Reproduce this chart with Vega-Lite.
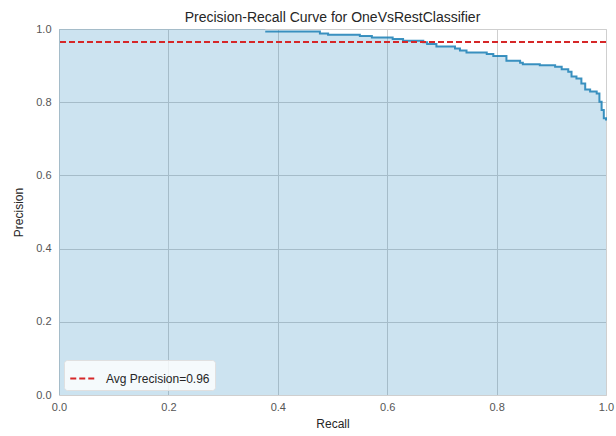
{
  "$schema": "https://vega.github.io/schema/vega-lite/v6.json",
  "autosize": "none",
  "width": 547,
  "height": 366,
  "padding": {"left": 59, "top": 29, "right": 10, "bottom": 41},
  "background": "white",
  "title": {
    "text": "Precision-Recall Curve for OneVsRestClassifier",
    "font": "Liberation Sans",
    "fontSize": 14,
    "fontWeight": "normal",
    "color": "#262626",
    "offset": -2
  },
  "config": {
    "view": {"stroke": "#d9d9d9", "strokeWidth": 1},
    "axis": {
      "labelFont": "Liberation Sans",
      "labelFontSize": 11,
      "labelColor": "#555555",
      "labelFlush": false,
      "titleFont": "Liberation Sans",
      "titleFontSize": 12,
      "titleFontWeight": "normal",
      "titleColor": "#262626",
      "gridColor": "#cfcfcf",
      "gridWidth": 1,
      "domain": false,
      "ticks": false
    }
  },
  "datasets": {
    "pr": [
      {"recall": 0.0, "precision": 1.0},
      {"recall": 0.377, "precision": 0.993},
      {"recall": 0.477, "precision": 0.988},
      {"recall": 0.492, "precision": 0.984},
      {"recall": 0.55, "precision": 0.981},
      {"recall": 0.572, "precision": 0.977},
      {"recall": 0.61, "precision": 0.973},
      {"recall": 0.629, "precision": 0.968},
      {"recall": 0.666, "precision": 0.964},
      {"recall": 0.673, "precision": 0.959},
      {"recall": 0.69, "precision": 0.952},
      {"recall": 0.724, "precision": 0.947},
      {"recall": 0.733, "precision": 0.941},
      {"recall": 0.745, "precision": 0.936},
      {"recall": 0.782, "precision": 0.932},
      {"recall": 0.794, "precision": 0.926},
      {"recall": 0.818, "precision": 0.913},
      {"recall": 0.843, "precision": 0.908},
      {"recall": 0.848, "precision": 0.904},
      {"recall": 0.879, "precision": 0.901},
      {"recall": 0.907, "precision": 0.897},
      {"recall": 0.919, "precision": 0.89},
      {"recall": 0.931, "precision": 0.883},
      {"recall": 0.937, "precision": 0.87},
      {"recall": 0.946, "precision": 0.865},
      {"recall": 0.955, "precision": 0.851},
      {"recall": 0.962, "precision": 0.835},
      {"recall": 0.971, "precision": 0.829},
      {"recall": 0.983, "precision": 0.824},
      {"recall": 0.988, "precision": 0.801},
      {"recall": 0.992, "precision": 0.779},
      {"recall": 0.996, "precision": 0.756},
      {"recall": 1.0, "precision": 0.75}
    ],
    "ap": [{"ap": 0.9645, "label": "Avg Precision=0.96"}]
  },
  "layer": [
    {
      "data": {"name": "pr"},
      "mark": {"type": "area", "interpolate": "step-after", "color": "#0072B2", "opacity": 0.2},
      "encoding": {
        "x": {"field": "recall", "type": "quantitative", "scale": {"domain": [0, 1], "nice": false}, "title": "Recall",
              "axis": {"tickCount": 5, "format": ".1f", "labelPadding": 6, "titlePadding": 6}},
        "y": {"field": "precision", "type": "quantitative", "scale": {"domain": [0, 1], "nice": false}, "title": "Precision",
              "axis": {"tickCount": 5, "format": ".1f", "labelPadding": 8, "titlePadding": 10}}
      }
    },
    {
      "data": {"name": "pr"},
      "transform": [{"filter": "datum.recall > 0"}],
      "mark": {"type": "line", "interpolate": "step-after", "color": "#1a7fb5", "opacity": 0.85, "strokeWidth": 2},
      "encoding": {
        "x": {"field": "recall", "type": "quantitative"},
        "y": {"field": "precision", "type": "quantitative"}
      }
    },
    {
      "data": {"name": "ap"},
      "mark": {"type": "rule", "strokeDash": [6, 3], "strokeWidth": 2},
      "encoding": {
        "y": {"field": "ap", "type": "quantitative"},
        "color": {
          "field": "label", "type": "nominal",
          "scale": {"range": ["#d62728"]},
          "legend": {
            "title": null,
            "orient": "bottom-left",
            "offset": 5,
            "symbolType": "stroke",
            "symbolStrokeWidth": 2,
            "symbolDash": [6, 3],
            "symbolSize": 600,
            "labelOffset": 10,
            "labelFont": "Liberation Sans",
            "labelFontSize": 12,
            "labelColor": "#262626",
            "fillColor": "rgba(255,255,255,0.8)",
            "strokeColor": "#e0e0e0",
            "cornerRadius": 3,
            "padding": 5
          }
        }
      }
    }
  ]
}
